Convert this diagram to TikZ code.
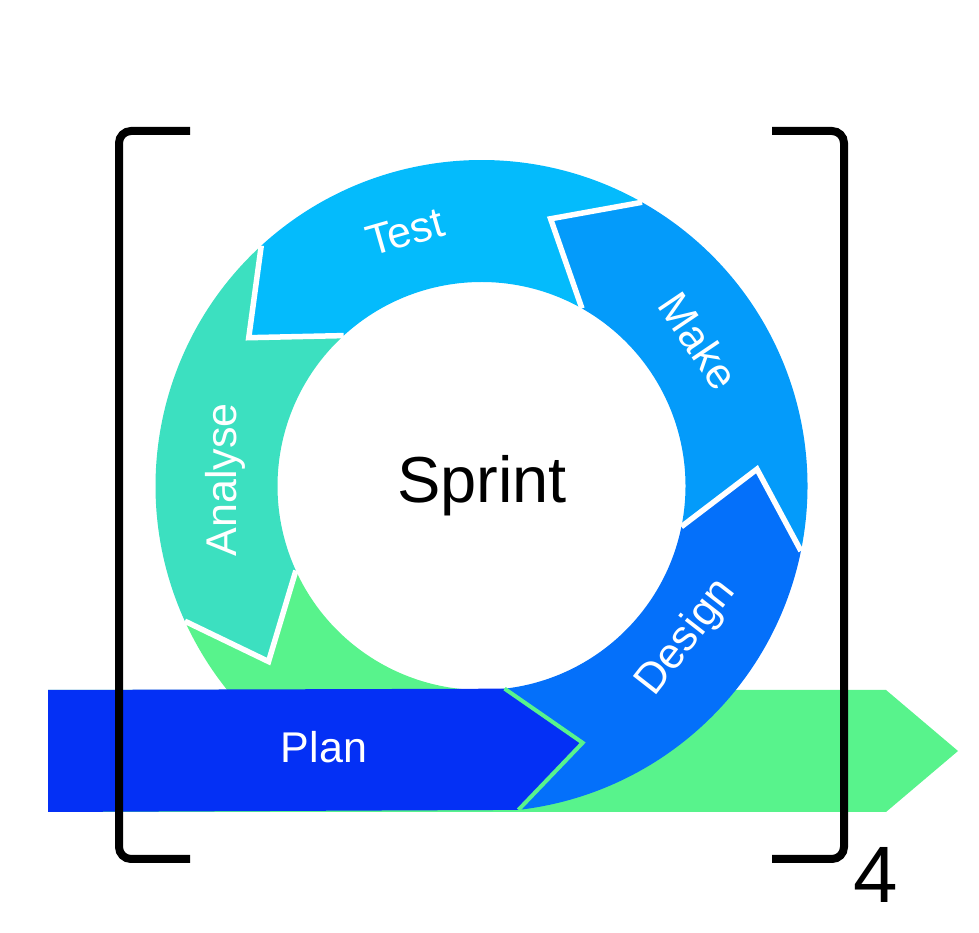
\documentclass[tikz,border=0pt]{standalone}
\usepackage{fontspec}
\setmainfont{Liberation Sans}
\definecolor{testc}{RGB}{4,187,252}
\definecolor{makec}{RGB}{4,155,250}
\definecolor{designc}{RGB}{4,112,250}
\definecolor{planblue}{RGB}{4,48,245}
\definecolor{analysec}{RGB}{60,224,192}
\definecolor{planc}{RGB}{88,243,140}
\begin{document}
\begin{tikzpicture}[x=1pt,y=1pt,
  lbl/.style={text=white, font=\fontsize{43}{51}\selectfont, inner sep=0pt},
  bracketline/.style={line width=8pt, rounded corners=12pt, black},
  gapline/.style={white, line width=5.5pt, line join=miter}]
\useasboundingbox (0,0) rectangle (979,933);
\coordinate (C) at (481.5,447);
% green banner behind
\fill[planc] (48,243) -- (886,243) -- (958,182) -- (886,121) -- (48,121) -- cycle;
\begin{scope}[shift={(C)}]
  \foreach \a/\col in {-83.5/designc, -11.5/makec, 60.5/testc, 132.5/analysec, 204.5/planc} {
    \pgfmathsetmacro\b{\a+72}
    \pgfmathsetmacro\bt{\a+87}
    \pgfmathsetmacro\at{\a+15}
    \fill[\col] (\a:326pt) arc[start angle=\a, end angle=\b, radius=326pt]
      -- (\bt:276pt) -- (\b:204pt)
      arc[start angle=\b, end angle=\a, radius=204pt]
      -- (\at:276pt) -- cycle;
  }
  % blue plan banner
  \fill[planblue] (-433.5,-204) -- (276.5:204pt) -- (291.5:276pt) -- (276.5:326pt) -- (-433.5,-326) -- cycle;
  \draw[planc, line width=4pt, line join=miter] (276.5:204pt) -- (291.5:276pt) -- (276.5:326pt);
  % white gaps
  \foreach \a in {-11.5, 60.5, 132.5, 204.5} {
    \pgfmathsetmacro\at{\a+15}
    \draw[gapline] (\a:326pt) -- (\at:276pt) -- (\a:204pt);
  }
  \node[lbl, rotate=16] (test) at (-76.5,254) {Test};
  \node[lbl, rotate=-56] (make) at (217.5,145) {Make};
  \node[lbl, rotate=52] (design) at (205,-152) {Design};
  \node[lbl, rotate=90] (analyse) at (-256.5,6) {Analyse};
  \node[lbl, anchor=base] (plan) at (-157.5,-277) {Plan};
  \node[anchor=base, inner sep=0pt, font=\fontsize{65}{78}\selectfont] (sprint) at (0.5,-17) {Sprint};
\end{scope}
% brackets
\draw[bracketline] (190,802) -- (119,802) -- (119,74) -- (190,74);
\draw[bracketline] (772,802) -- (844,802) -- (844,74) -- (772,74);
\node[anchor=base, inner sep=0pt, font=\fontsize{80}{96}\selectfont] (four) at (876,30) {4};
\end{tikzpicture}
\end{document}
